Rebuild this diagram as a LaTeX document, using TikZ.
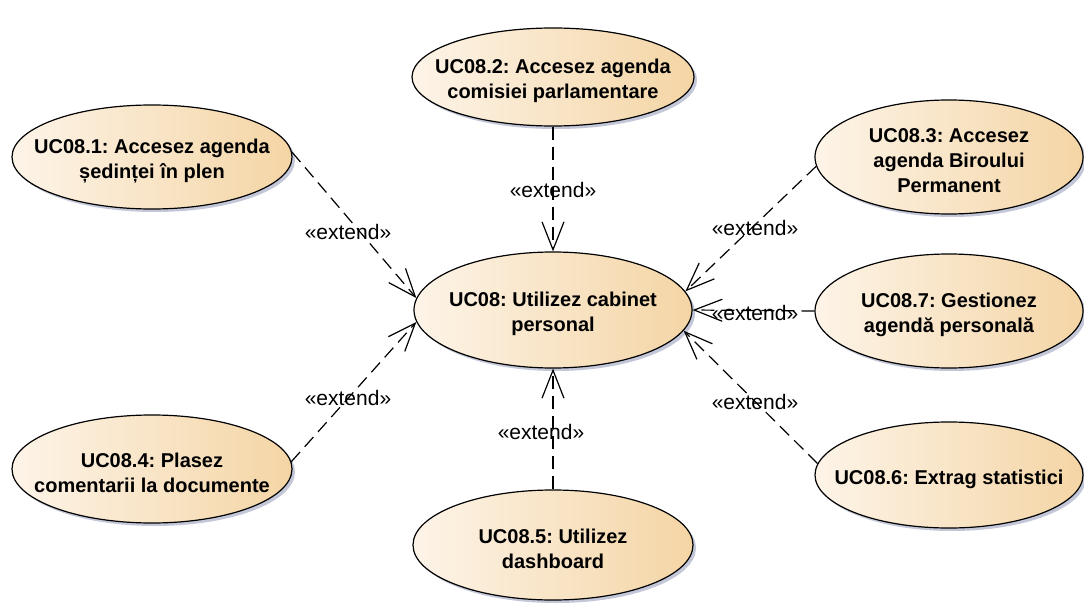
\documentclass[tikz,border=0pt]{standalone}
\usepackage{fontspec}
\setmainfont{Liberation Sans}
\usetikzlibrary{shapes.geometric,arrows.meta,shadows}
\definecolor{ucL}{HTML}{FDF4E8}
\definecolor{ucR}{HTML}{F4D5A5}
\definecolor{shd}{HTML}{A9AFC8}
\frenchspacing
\begin{document}
\begin{tikzpicture}[x=1pt,y=-1pt,
  uc/.style={ellipse, draw=black, line width=1.2pt, left color=ucL, right color=ucR,
    drop shadow={shadow xshift=3pt,shadow yshift=-3pt,fill=shd,opacity=0.7}, inner sep=0pt},
  uctext/.style={font=\fontsize{20}{25}\selectfont\bfseries, align=center, inner sep=0pt, yshift=-4pt},
  ext/.style={font=\fontsize{21}{24}\selectfont, inner sep=1pt},
  dep/.style={line width=1.2pt, dash pattern=on 13pt off 7pt,
    -{Straight Barb[length=28pt,width=22pt,line width=1.2pt]}}]
\useasboundingbox (0,0) rectangle (1084,604);
% use cases
\node[uc, minimum width=278pt, minimum height=116pt] (u) at (553,310) {};
\node[uctext] (ut) at (u) {UC08: Utilizez cabinet\\personal};
\node[uc, minimum width=280pt, minimum height=104pt] (a) at (152,157) {};
\node[uctext] (at) at (a) {UC08.1: Accesez agenda\\ședinței în plen};
\node[uc, minimum width=282pt, minimum height=98pt] (b) at (553,77) {};
\node[uctext] (bt) at (b) {UC08.2: Accesez agenda\\comisiei parlamentare};
\node[uc, minimum width=268pt, minimum height=114pt] (c) at (949,157) {};
\node[uctext] (ct) at (c) {UC08.3: Accesez\\agenda Biroului\\Permanent};
\node[uc, minimum width=268pt, minimum height=114pt] (h) at (949,311) {};
\node[uctext] (ht) at (h) {UC08.7: Gestionez\\agendă personală};
\node[uc, minimum width=268pt, minimum height=106pt] (g) at (949,475) {};
\node[uctext] (gt) at (g) {UC08.6: Extrag statistici};
\node[uc, minimum width=280pt, minimum height=108pt] (d) at (152,469) {};
\node[uctext] (dt) at (d) {UC08.4: Plasez\\comentarii la documente};
\node[uc, minimum width=280pt, minimum height=110pt] (e) at (553,545) {};
\node[uctext] (et) at (e) {UC08.5: Utilizez\\dashboard};
% connectors
\draw[dep] (a.2) -- (u.175);
\draw[dep] (b.south) -- (u.north);
\draw[dep] (c.184) -- (u.8);
\draw[dep] (h.west) -- (u.east);
\draw[dep] (g.175) -- (u.351);
\draw[dep] (e.north) -- (u.south);
\draw[dep] (d.3) -- (u.185);
% labels
\node[ext] (l1) at (348,232) {«extend»};
\node[ext] (l2) at (553,190) {«extend»};
\node[ext] (l3) at (755,228) {«extend»};
\node[ext] (l7) at (755,313) {«extend»};
\node[ext] (l6) at (755,402) {«extend»};
\node[ext] (l5) at (541,432) {«extend»};
\node[ext] (l4) at (348,398) {«extend»};
\end{tikzpicture}
\end{document}
